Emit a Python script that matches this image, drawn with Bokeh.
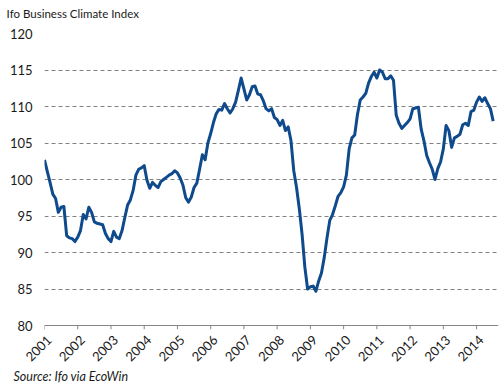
import math
from bokeh.plotting import figure
from bokeh.models import (Range1d, FixedTicker, Title, LinearAxis, Span,
                          CustomJSTickFormatter)
from bokeh.embed import file_html
from bokeh.resources import INLINE

title_text = "Ifo Business Climate Index"
source_text = "Source: Ifo via EcoWin"

years = list(range(2001, 2015))
year_labels = [str(y) for y in years]
y_ticks = [80, 85, 90, 95, 100, 105, 110, 115, 120]

# Monthly index values, January onwards
ifo_2001 = [102.7, 101.1, 99.6, 98.0, 97.4, 95.5, 96.2, 96.3, 92.3, 92.0, 91.9, 91.5]
ifo_2002 = [92.1, 93.0, 95.2, 94.6, 96.2, 95.5, 94.2, 94.0, 93.9, 93.8, 92.6, 91.9]
ifo_2003 = [91.5, 92.9, 92.1, 91.9, 93.0, 94.8, 96.5, 97.2, 98.5, 100.6, 101.4, 101.6]
ifo_2004 = [101.9, 99.9, 98.8, 99.6, 99.2, 98.9, 99.7, 100.0, 100.3, 100.6, 100.8, 101.2]
ifo_2005 = [100.9, 100.2, 99.2, 97.5, 96.9, 97.6, 98.9, 99.5, 101.4, 103.4, 102.7, 105.0]
ifo_2006 = [106.3, 107.8, 109.0, 109.6, 109.5, 110.4, 109.7, 109.1, 109.7, 110.6, 112.2, 113.9]
ifo_2007 = [112.4, 110.9, 111.6, 112.7, 112.8, 111.7, 111.6, 110.8, 109.7, 109.4, 109.7, 108.5]
ifo_2008 = [108.2, 107.4, 108.1, 106.7, 107.2, 105.3, 101.2, 98.9, 96.0, 92.5, 88.0, 85.0]
ifo_2009 = [85.3, 85.4, 84.7, 86.1, 87.2, 89.3, 92.0, 94.4, 95.2, 96.4, 97.7, 98.2]
ifo_2010 = [99.0, 100.6, 104.2, 105.7, 106.1, 108.9, 110.9, 111.3, 111.8, 113.2, 114.1, 114.7]
ifo_2011 = [113.9, 115.0, 114.7, 113.8, 113.8, 114.2, 113.6, 108.8, 107.7, 107.0, 107.4, 107.8]
ifo_2012 = [108.3, 109.7, 109.8, 109.9, 106.9, 105.3, 103.3, 102.3, 101.4, 100.0, 101.5, 102.4]
ifo_2013 = [104.2, 107.4, 106.7, 104.4, 105.7, 105.9, 106.2, 107.5, 107.7, 107.4, 109.3, 109.5]
ifo_2014 = [110.6, 111.3, 110.7, 111.2, 110.4, 109.7, 108.0]

yearly = [ifo_2001, ifo_2002, ifo_2003, ifo_2004, ifo_2005, ifo_2006, ifo_2007,
          ifo_2008, ifo_2009, ifo_2010, ifo_2011, ifo_2012, ifo_2013, ifo_2014]

xs, ys = [], []
for year, vals in zip(years, yearly):
    for month, v in enumerate(vals):
        xs.append(year + month / 12.0)
        ys.append(v)

FONT = "Lato"
TEXT_COLOR = "#1a1a1a"
GRAY = "#868686"

PX_PER_UNIT = 7.3          # vertical pixels per index point
TICK_PX = 4                # length of the x tick marks below the axis line
y_floor = y_ticks[0]
y_low = y_floor - TICK_PX / PX_PER_UNIT

p = figure(width=503, height=387, output_backend="svg", toolbar_location=None,
           x_range=Range1d(2001, 2014.66), y_range=Range1d(y_low, 120),
           min_border_left=44, min_border_right=5, min_border_top=33,
           min_border_bottom=58)
p.outline_line_color = None
p.background_fill_color = "white"
p.border_fill_color = "white"

p.xgrid.grid_line_color = None
p.ygrid.grid_line_color = "#828282"
p.ygrid.grid_line_dash = "4 3"
p.ygrid.grid_line_width = 1

# axis line at 80 and tick marks hanging below it
p.add_layout(Span(location=y_floor, dimension="width", line_color=GRAY, line_width=1))
p.segment(x0=years, y0=[y_floor] * len(years), x1=years, y1=[y_low] * len(years),
          line_color=GRAY, line_width=1)

p.line(xs, ys, line_width=3, line_color="#0F4A8C", line_join="round")

# x axis: slanted year labels
label_shift = 0.135
p.xaxis.ticker = FixedTicker(ticks=[y + label_shift for y in years])
p.xaxis.formatter = CustomJSTickFormatter(
    args=dict(labels=year_labels, first=years[0]),
    code="return labels[Math.round(tick - first)]")
p.xaxis.axis_line_color = None
p.xaxis.major_tick_out = 0
p.xaxis.major_tick_in = 0
p.xaxis.minor_tick_out = 0
p.xaxis.minor_tick_in = 0
p.xaxis.major_label_orientation = math.pi / 4
p.xaxis.major_label_standoff = 8
p.xaxis.major_label_text_font = FONT
p.xaxis.major_label_text_font_size = "13px"
p.xaxis.major_label_text_color = TEXT_COLOR

# y axis
p.yaxis.ticker = FixedTicker(ticks=y_ticks)
p.yaxis.axis_line_color = None
p.yaxis.major_tick_out = 0
p.yaxis.major_tick_in = 0
p.yaxis.minor_tick_out = 0
p.yaxis.minor_tick_in = 0
p.yaxis.major_label_text_font = FONT
p.yaxis.major_label_text_font_size = "13px"
p.yaxis.major_label_text_color = TEXT_COLOR
p.yaxis.major_label_standoff = 12

# chart title, placed in the band above the plot area
title_axis = LinearAxis(
    ticker=FixedTicker(ticks=[2001.85]),
    formatter=CustomJSTickFormatter(args=dict(t=title_text), code="return t"),
    axis_line_color=None, major_tick_out=0, major_tick_in=0,
    minor_tick_out=0, minor_tick_in=0, major_label_standoff=14,
    major_label_text_font=FONT, major_label_text_font_size="11.5px",
    major_label_text_color=TEXT_COLOR)
p.add_layout(title_axis, "above")

src = Title(text=source_text, align="left", vertical_align="top",
            text_font=FONT, text_font_size="12.5px", text_font_style="italic",
            text_color=TEXT_COLOR, offset=-31, standoff=0)
p.add_layout(src, "below")

open("out.html", "w").write(file_html(p, INLINE))
